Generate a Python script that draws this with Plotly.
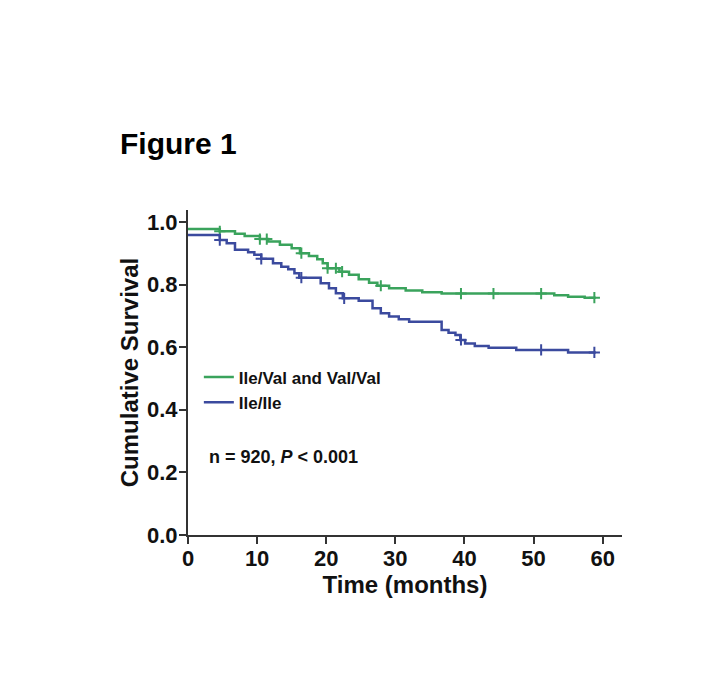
import bisect
import plotly.graph_objects as go

# ---- data ----
green_name = "Ile/Val and Val/Val"
green_t = [0, 4.6, 6.8, 8.2, 10.4, 11.6, 13.3, 15.0, 16.2, 17.5, 18.7, 19.5, 20.2, 21.9, 23.3,
           24.7, 26.2, 27.4, 29.1, 31.5, 33.9, 36.7, 53.0, 55.0, 57.4, 59.0]
green_s = [0.977, 0.970, 0.962, 0.955, 0.945, 0.937, 0.927, 0.916, 0.900, 0.891, 0.881, 0.868, 0.852,
           0.841, 0.831, 0.817, 0.806, 0.796, 0.788, 0.781, 0.775, 0.771, 0.766, 0.761, 0.758, 0.758]
green_censor_t = [4.6, 10.4, 11.4, 16.4, 20.2, 21.4, 22.3, 27.9, 39.5, 44.2, 51.1, 58.8]

blue_name = "Ile/Ile"
blue_t = [0, 4.6, 5.6, 6.8, 8.7, 9.6, 10.6, 12.3, 13.5, 14.5, 15.4, 16.1, 19.2, 20.4, 21.4, 22.4,
          24.7, 26.7, 27.9, 29.1, 30.5, 32.0, 36.7, 37.7, 38.7, 39.4, 40.1, 41.5, 43.5, 47.5, 55.0, 59.0]
blue_s = [0.958, 0.942, 0.932, 0.911, 0.903, 0.895, 0.882, 0.868, 0.857, 0.849, 0.836, 0.822, 0.804,
          0.788, 0.772, 0.756, 0.748, 0.724, 0.708, 0.698, 0.689, 0.681, 0.655, 0.646, 0.639, 0.623,
          0.612, 0.604, 0.598, 0.591, 0.583, 0.583]
blue_censor_t = [4.6, 10.6, 16.4, 22.6, 39.5, 51.1, 58.8]

x_ticks = [0, 10, 20, 30, 40, 50, 60]
y_ticks = [0.0, 0.2, 0.4, 0.6, 0.8, 1.0]
y_tick_labels = ["0.0", "0.2", "0.4", "0.6", "0.8", "1.0"]

GREEN = "#3aa35c"
BLUE = "#3b4a9e"
FONT = "Liberation Sans, Arial, sans-serif"


def step_value(ts, ss, t):
    i = bisect.bisect_right(ts, t) - 1
    return ss[max(i, 0)]


fig = go.Figure()
for name, ts, ss, cts, col in [(green_name, green_t, green_s, green_censor_t, GREEN),
                               (blue_name, blue_t, blue_s, blue_censor_t, BLUE)]:
    fig.add_trace(go.Scatter(x=ts, y=ss, mode="lines", line=dict(shape="hv", color=col, width=2.5),
                             name=f"<b>{name}</b>"))
    fig.add_trace(go.Scatter(x=cts, y=[step_value(ts, ss, c) for c in cts], mode="markers",
                             marker=dict(symbol="cross-thin", size=8, line=dict(color=col, width=2)),
                             showlegend=False, hoverinfo="skip"))

fig.add_annotation(x=0.043, y=0.24, xref="paper", yref="paper", xanchor="left", yanchor="middle",
                   text="<b>n = 920, <i>P</i> < 0.001</b>", showarrow=False,
                   font=dict(family=FONT, size=18, color="#111"))
fig.add_annotation(x=-0.161, y=1.206, xref="paper", yref="paper", xanchor="left", yanchor="middle",
                   text="<b>Figure 1</b>", showarrow=False,
                   font=dict(family=FONT, size=30, color="#000"))

fig.update_layout(
    width=709, height=698,
    margin=dict(l=180, r=95, t=202, b=171),
    paper_bgcolor="white", plot_bgcolor="white",
    font=dict(family=FONT, color="#111"),
    legend=dict(x=0.025, y=0.54, xanchor="left", yanchor="top", bgcolor="rgba(0,0,0,0)",
                font=dict(family=FONT, size=17, color="#111"), tracegroupgap=0,
                itemwidth=30),
    showlegend=True,
)
fig.update_xaxes(range=[0, 62.8], tickvals=x_ticks, ticktext=[f"<b>{v}</b>" for v in x_ticks],
                 showgrid=False, zeroline=False, showline=True, linecolor="#333", linewidth=2,
                 ticks="outside", ticklen=7, tickwidth=2, tickcolor="#333", ticklabelstandoff=-4,
                 tickfont=dict(family=FONT, size=22, color="#111"),
                 title=dict(text="<b>Time (months)</b>", font=dict(family=FONT, size=24, color="#111"),
                            standoff=6))
fig.update_yaxes(range=[0, 1.038], tickvals=y_ticks, ticktext=[f"<b>{v}</b>" for v in y_tick_labels],
                 showgrid=False, zeroline=False, showline=True, linecolor="#333", linewidth=2,
                 ticks="outside", ticklen=7, tickwidth=2, tickcolor="#333", ticklabelstandoff=-3,
                 tickfont=dict(family=FONT, size=22, color="#111"),
                 title=dict(text="<b>Cumulative Survival</b>", font=dict(family=FONT, size=24, color="#111"),
                            standoff=2))

fig.write_html("out.html")
